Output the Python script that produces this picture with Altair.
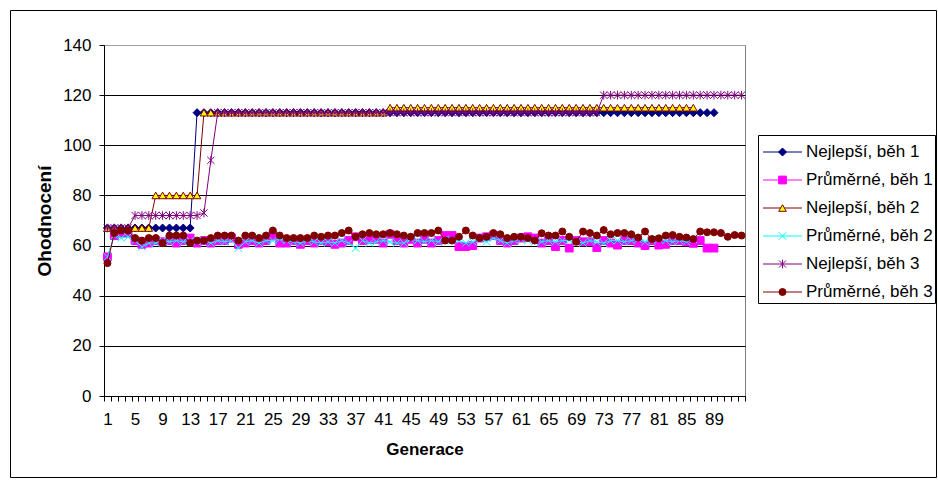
import altair as alt
import pandas as pd

# ---------------- data ----------------
series_names = ["Nejlepší, běh 1", "Průměrné, běh 1", "Nejlepší, běh 2",
                "Průměrné, běh 2", "Nejlepší, běh 3", "Průměrné, běh 3"]

x_tick_labels = [1, 5, 9, 13, 17, 21, 25, 29, 33, 37, 41, 45, 49, 53, 57, 61,
                 65, 69, 73, 77, 81, 85, 89]
y_tick_values = [0, 20, 40, 60, 80, 100, 120, 140]

best1 = [67, 67, 67, 67, 67, 67, 67, 67, 67, 67, 67, 67, 67,
         113, 113, 113, 113, 113, 113, 113, 113, 113, 113, 113, 113, 113, 113, 113, 113,
         113, 113, 113, 113, 113, 113, 113, 113, 113, 113, 113, 113, 113, 113, 113, 113,
         113, 113, 113, 113, 113, 113, 113, 113, 113, 113, 113, 113, 113, 113, 113, 113,
         113, 113, 113, 113, 113, 113, 113, 113, 113, 113, 113, 113, 113, 113, 113, 113,
         113, 113, 113, 113, 113, 113, 113, 113, 113, 113, 113, 113]

avg1 = [55.5, 64, 65, 65, 62, 60.5, 61, 62, 61.5, 62, 61, 62, 63, 61, 62, 61, 62, 62,
        63, 60.5, 61, 62, 61, 62, 64, 61, 61, 62, 60.5, 62, 61, 62, 61.5, 60.5, 61, 62,
        63.5, 62, 62.5, 62.5, 61, 64.5, 62, 61, 62.5, 61, 62.5, 61, 62, 64, 64, 59.6,
        59.6, 60, 63, 63.5, 64, 62, 61, 62, 63, 63.5, 63, 61, 62, 59.6, 62, 59, 62, 61.5,
        61.5, 59.2, 62, 61, 60.2, 62, 62, 61, 60, 62, 60.2, 60.5, 62, 62, 61.5, 60.9, 62,
        59, 59]

best2 = [67, 67, 67, 67, 67, 67, 67,
         80, 80, 80, 80, 80, 80, 80,
         113, 113, 113, 113, 113, 113, 113, 113, 113, 113, 113, 113, 113, 113,
         113, 113, 113, 113, 113, 113, 113, 113, 113, 113, 113, 113, 113,
         115, 115, 115, 115, 115, 115, 115, 115, 115, 115, 115, 115, 115, 115, 115,
         115, 115, 115, 115, 115, 115, 115, 115, 115, 115, 115, 115, 115, 115, 115,
         115, 115, 115, 115, 115, 115, 115, 115, 115, 115, 115, 115, 115, 115, 115]

avg2 = [55.5, 64, 63, 63.5, 62, 59.5, 61, 61, 62, 61.5, 62, 61.5, 62, 61.5, 62, 61,
        62, 61.5, 62, 59, 61.5, 62, 61, 62, 62, 62.5, 62, 61.5, 61, 62, 61.5, 61, 61.5,
        61, 62, 61, 59, 62, 61, 61.5, 62, 61.5, 61, 61, 62.5, 62, 61.5, 62, 61.5, 62.5,
        62, 62, 61, 61.5, 62.5, 61.5, 63, 62, 61, 62, 62.5, 62, 61.5, 61.5, 62, 61.5, 62,
        62, 61.5, 61, 62, 61.5, 61, 62, 62, 61.5, 62, 62.5, 61.5, 62, 62.5, 62, 61.5, 62,
        61.5, 62.5]

best3 = [67, 67, 67, 67,
         72, 72, 72, 72, 72, 72, 72, 72, 72, 72,
         73, 94,
         113, 113, 113, 113, 113, 113, 113, 113, 113, 113, 113, 113, 113, 113,
         113, 113, 113, 113, 113, 113, 113, 113, 113, 113, 113, 113, 113, 113,
         113, 113, 113, 113, 113, 113, 113, 113, 113, 113, 113, 113, 113, 113,
         113, 113, 113, 113, 113, 113, 113, 113, 113, 113, 113, 113, 113, 113,
         120, 120, 120, 120, 120, 120, 120, 120, 120, 120, 120, 120, 120, 120,
         120, 120, 120, 120, 120, 120, 120]

avg3 = [53, 65, 66, 66, 63, 62, 63, 63, 61, 64, 64, 64, 61, 62, 62, 63, 64, 64, 64, 62,
        64, 64, 63, 64, 66, 64, 63, 63, 63, 63,
        64, 63.5, 64, 64, 65, 66, 63.5, 64.5, 65, 64.5, 64.5, 65, 64.5, 64, 63.5, 65, 65,
        65, 66, 62, 62, 63.5, 66, 64, 63, 63.5, 65, 64.5, 63, 63.5, 63.5, 63,
        62, 64.9, 64, 64, 65.6, 63.5, 61.5, 65.6, 65, 64, 66.2, 64.5, 65, 65, 64.5, 63.2,
        65.6, 62.6, 62.9, 64, 64.2, 63.5, 63.2, 62.6, 65.6, 65.3, 65.3, 65, 63.5, 64.2, 64]

all_values = [best1, avg1, best2, avg2, best3, avg3]

# ---------------- styles ----------------
line_colors = ["#000080", "#FF00FF", "#800000", "#00FFFF", "#800080", "#800000"]
marker_fills = ["#000080", "#FF00FF", "#FFFF00", "transparent", "transparent", "#800000"]
marker_shapes = ["diamond", "square", "triangle-up",
                 "M-1,-1L1,1M-1,1L1,-1",
                 "M-1,-1L1,1M-1,1L1,-1M0,-1.2L0,1.2",
                 "circle"]
marker_sizes = [64, 49, 64, 49, 49, 64]
FONT = "Liberation Sans"

rows = []
for name, vals in zip(series_names, all_values):
    for i, v in enumerate(vals):
        rows.append({"series": name, "gen": i + 1, "value": v})
df = pd.DataFrame(rows)
legend_df = pd.DataFrame({"series": series_names})

n_cat = 93
W, H = 641, 351
half_cat = W / n_cat / 2

stroke_scale = alt.Scale(domain=series_names, range=line_colors)
fill_scale = alt.Scale(domain=series_names, range=marker_fills)
shape_scale = alt.Scale(domain=series_names, range=marker_shapes)
size_scale = alt.Scale(domain=series_names, range=marker_sizes)

label_list = "[" + ",".join(str(v) for v in x_tick_labels) + "]"
x_axis = alt.Axis(
    values=[k + 0.5 for k in range(0, n_cat + 1)],
    labelExpr=f"indexof({label_list}, datum.value + 0.5) >= 0 ? format(datum.value + 0.5, 'd') : ''",
    labelOffset=half_cat, labelOverlap=False, labelFlush=False,
    tickSize=5, tickColor="black", domainColor="black", grid=False,
    labelFontSize=17, labelColor="black", labelPadding=10, labelFont=FONT,
    title="Generace", titleFontSize=17, titleFontWeight="bold", titleColor="black",
    titleFont=FONT, titlePadding=14,
)
y_axis = alt.Axis(
    values=y_tick_values, tickSize=5, tickColor="black", domainColor="black",
    grid=True, gridColor={"condition": {"test": "datum.value === 140", "value": "#a0a0a0"}, "value": "black"},
    gridWidth=1, labelFontSize=17, labelColor="black", labelPadding=8, labelFont=FONT,
    title="Ohodnocení", titleFontSize=19, titleFontWeight="bold", titleColor="black",
    titleFont=FONT, titlePadding=8,
)

X = alt.X("gen:Q", scale=alt.Scale(domain=[0.5, n_cat + 0.5], nice=False, zero=False), axis=x_axis)
Y = alt.Y("value:Q", scale=alt.Scale(domain=[0, 140], nice=False, zero=True), axis=y_axis)

main_layers = []
for name in series_names:
    base = alt.Chart(df).transform_filter(alt.datum.series == name)
    main_layers.append(
        base.mark_line(strokeWidth=1).encode(
            x=X, y=Y, stroke=alt.Stroke("series:N", scale=stroke_scale, legend=None))
    )
    main_layers.append(
        base.mark_point(filled=True, opacity=1, strokeWidth=1).encode(
            x=X, y=Y,
            stroke=alt.Stroke("series:N", scale=stroke_scale, legend=None),
            fill=alt.Fill("series:N", scale=fill_scale, legend=None),
            shape=alt.Shape("series:N", scale=shape_scale, legend=None),
            size=alt.Size("series:N", scale=size_scale, legend=None))
    )
main = alt.layer(*main_layers)

# ---------------- hand-made Excel style legend ----------------
LY = alt.Y("series:N", scale=alt.Scale(type="point", domain=series_names, range=[107, 247], padding=0), axis=None)
leg_box = alt.Chart(alt.Data(values=[{}])).mark_rect(fill="white", stroke="black", strokeWidth=1).encode(
    x=alt.value(654.5), x2=alt.value(831.5), y=alt.value(90.5), y2=alt.value(258.5))
leg_line = alt.Chart(legend_df).mark_rule(strokeWidth=1).encode(
    x=alt.value(659), x2=alt.value(698), y=LY,
    stroke=alt.Stroke("series:N", scale=stroke_scale, legend=None))
leg_point = alt.Chart(legend_df).mark_point(filled=True, opacity=1, strokeWidth=1).encode(
    x=alt.value(678.5), y=LY,
    stroke=alt.Stroke("series:N", scale=stroke_scale, legend=None),
    fill=alt.Fill("series:N", scale=fill_scale, legend=None),
    shape=alt.Shape("series:N", scale=shape_scale, legend=None),
    size=alt.Size("series:N", scale=size_scale, legend=None))
leg_text = alt.Chart(legend_df).mark_text(align="left", baseline="middle", fontSize=17, font=FONT, color="black").encode(
    x=alt.value(702), y=LY, text="series:N")
legend = alt.layer(leg_line, leg_point, leg_text)

frame = alt.Chart(alt.Data(values=[{}])).mark_rect(fill="transparent", stroke="black", strokeWidth=1).encode(
    x=alt.value(-93.5), x2=alt.value(832.5), y=alt.value(-34.5), y2=alt.value(432.5))

chart = alt.layer(main, leg_box, legend, frame).resolve_scale(y="independent").properties(
    width=W, height=H,
    autosize=alt.AutoSizeParams(type="none"),
    padding={"left": 104, "top": 45, "right": 193, "bottom": 84},
).configure(font=FONT).configure_view(stroke="#808080", strokeWidth=1)

chart.save("out.html", embed_options={"renderer": "svg", "actions": False})
